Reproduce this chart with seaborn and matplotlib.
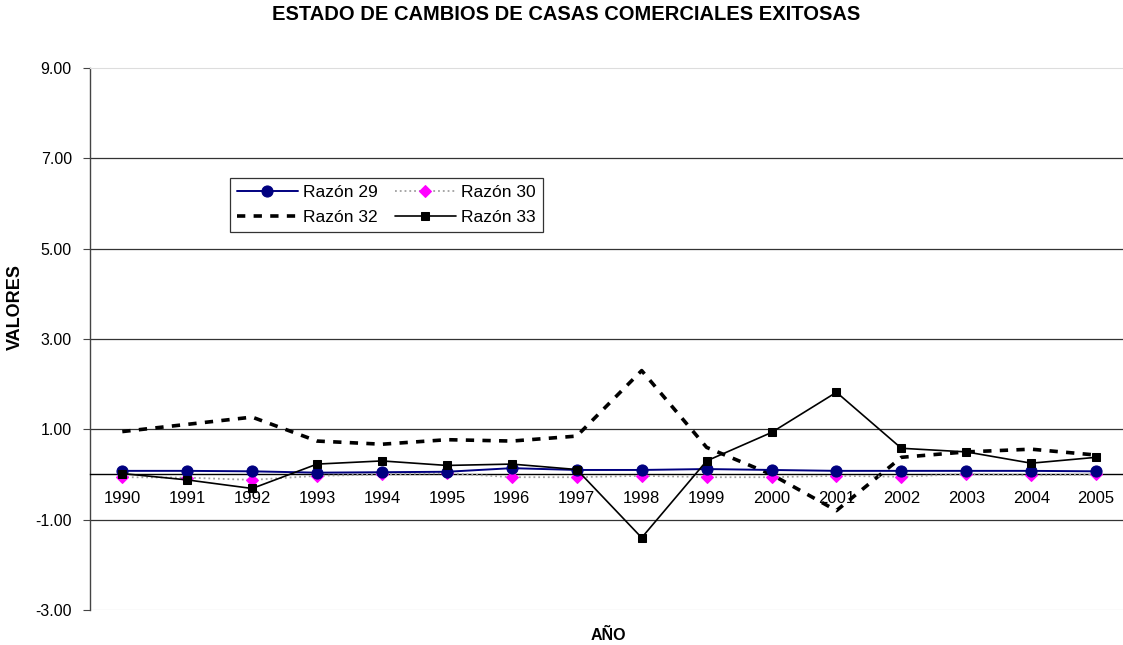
import pandas as pd
import numpy as np
import matplotlib.pyplot as plt
import seaborn as sns

# Values
years = list(range(1990, 2006))
razon_29 = [0.08, 0.08, 0.07, 0.04, 0.05, 0.06, 0.14, 0.10, 0.10, 0.12, 0.10, 0.08, 0.08, 0.08, 0.08, 0.07]
razon_30 = [-0.06, -0.07, -0.12, -0.03, 0.00, 0.03, -0.06, -0.06, -0.03, -0.06, -0.06, -0.03, -0.05, 0.01, -0.02, 0.00]
razon_32 = [0.95, 1.11, 1.27, 0.74, 0.67, 0.77, 0.74, 0.85, 2.30, 0.60, 0.00, -0.80, 0.38, 0.50, 0.56, 0.43]
razon_33 = [0.02, -0.12, -0.31, 0.23, 0.30, 0.20, 0.23, 0.11, -1.40, 0.30, 0.93, 1.82, 0.58, 0.50, 0.25, 0.38]
y_ticks = [-3, -1, 1, 3, 5, 7, 9]
grid_values = [-1, 1, 3, 5, 7]

data = pd.DataFrame({"AÑO": years, "Razón 29": razon_29, "Razón 30": razon_30,
                     "Razón 32": razon_32, "Razón 33": razon_33})

sns.set_style("white")
plt.rcParams['font.family'] = ['Liberation Sans', 'DejaVu Sans']
plt.rcParams['text.color'] = 'black'
plt.rcParams['xtick.color'] = 'black'
plt.rcParams['ytick.color'] = 'black'

fig = plt.figure(figsize=(11.23, 6.45), dpi=100)
ax = fig.add_axes([0.080, 0.0543, 0.925, 0.8403])

# gridlines behind the data
for g in grid_values:
    ax.axhline(g, color="#333333", linewidth=0.9, zorder=0)
ax.axhline(-3, color="#dddddd", linewidth=0.9, zorder=0)

sns.lineplot(x="AÑO", y="Razón 32", data=data, ax=ax, color="black", linewidth=2.6,
             label="Razón 32", zorder=3).lines[-1].set_dashes([2.3, 2.3])
sns.lineplot(x="AÑO", y="Razón 30", data=data, ax=ax, color="#a0a0a0", linewidth=1.3,
             linestyle=":", marker="D", markersize=6, markerfacecolor="#ff00ff",
             markeredgecolor="#ff00ff", label="Razón 30", zorder=4)
sns.lineplot(x="AÑO", y="Razón 29", data=data, ax=ax, color="#000080", linewidth=1.4,
             marker="o", markersize=8, markerfacecolor="#000080",
             markeredgecolor="#000080", label="Razón 29", zorder=5)
sns.lineplot(x="AÑO", y="Razón 33", data=data, ax=ax, color="black", linewidth=1.2,
             marker="s", markersize=6, markerfacecolor="black",
             markeredgecolor="black", label="Razón 33", zorder=6)

# x axis runs along zero (set before tick styling, it resets the ticks)
ax.spines["bottom"].set_position(("data", 0))
ax.spines["bottom"].set_color("black")
ax.spines["bottom"].set_linewidth(1.0)
ax.spines["left"].set_color("#444444")
ax.spines["left"].set_linewidth(1.0)
ax.spines["top"].set_color("#dddddd")
ax.spines["right"].set_visible(False)

ax.set_xlim(1989.5, 2005.5)
ax.set_ylim(-3, 9)
ax.set_yticks(y_ticks)
ax.set_yticklabels([f"{v:.2f}" for v in y_ticks], fontsize=11.5)
ax.set_xticks(years)
ax.set_xticklabels([str(y) for y in years], fontsize=12)
ax.set_xticks(np.arange(1989.5, 2006, 1), minor=True)
ax.tick_params(axis="x", which="major", length=0, pad=12)
ax.tick_params(axis="x", which="minor", length=4, width=0.8, color="#444444", direction="out")
ax.tick_params(axis="y", length=5, width=0.8, color="#444444", direction="out", pad=8, left=True)

ax.set_xlabel("")
ax.set_ylabel("")
fig.text(608 / 1123, 1 - 635 / 645, "AÑO", ha="center", va="center", fontsize=11.5, fontweight="bold")
fig.text(15 / 1123, 1 - 307 / 645, "VALORES", ha="center", va="center", rotation=90,
         fontsize=13, fontweight="bold")
fig.text(566 / 1123, 1 - 15 / 645, "ESTADO DE CAMBIOS DE CASAS COMERCIALES EXITOSAS", ha="center",
         va="center", fontsize=14.5, fontweight="bold")

handles, labels = ax.get_legend_handles_labels()
order = ["Razón 29", "Razón 32", "Razón 30", "Razón 33"]
hmap = dict(zip(labels, handles))
leg = ax.legend([hmap[k] for k in order], order, ncol=2, loc="upper left",
                bbox_to_anchor=(230 / 1123, 1 - 178 / 645), bbox_transform=fig.transFigure,
                fontsize=12.5, frameon=True, fancybox=False, edgecolor="black",
                handlelength=3.5, columnspacing=1.0, handletextpad=0.3,
                borderpad=0.4, labelspacing=0.55, borderaxespad=0)
leg.get_frame().set_linewidth(0.9)

plt.savefig("out.png", dpi=100)
